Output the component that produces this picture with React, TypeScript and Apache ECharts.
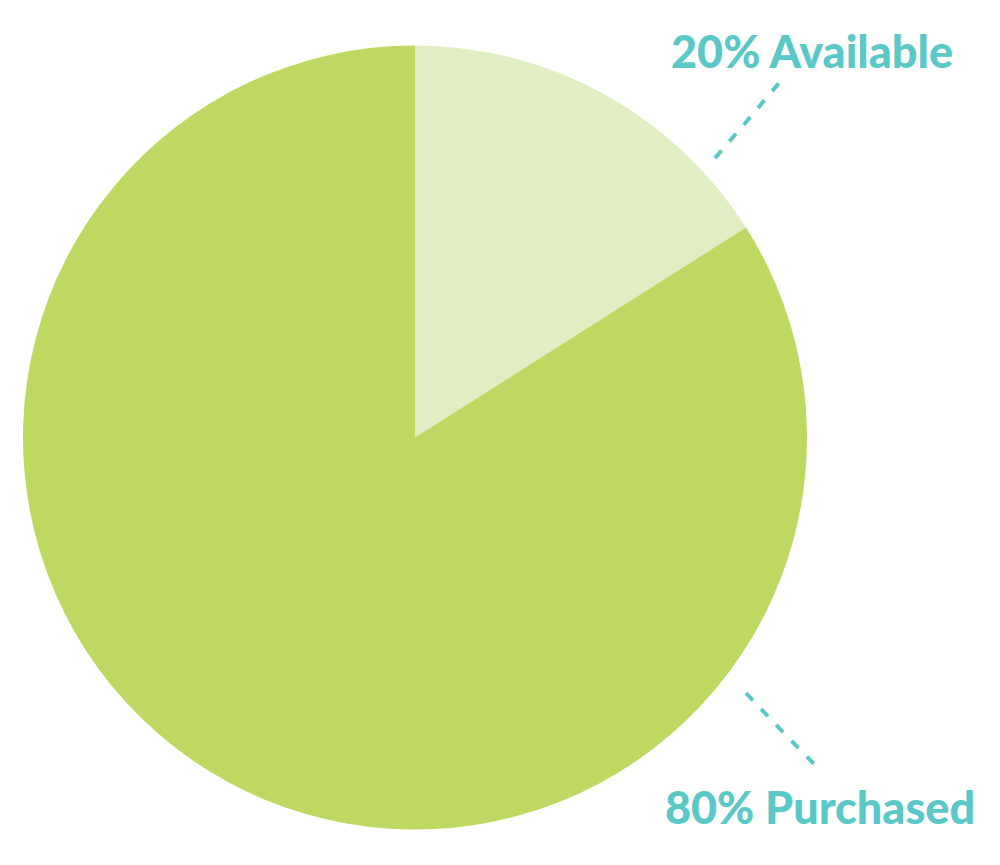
import React, { useEffect, useRef } from "react";
import * as echarts from "echarts";

const categories = ["Available", "Purchased"];
const labelPercents = [20, 80];
// slice sizes as drawn in the picture (percent of the circle)
const sliceValues = [16, 84];
const sliceColors = ["#e1eec4", "#bed862"];
const labelColor = "#5bc8c8";

// label anchors and leader lines (layout only)
const labelAnchors = [
  { x: 812, y: 51, line: [[715, 158], [747, 121], [779, 83]] },
  { x: 820, y: 807, line: [[746, 693], [780, 729], [815, 765]] },
];

export default function App() {
  const ref = useRef<HTMLDivElement>(null);
  useEffect(() => {
    document.body.style.margin = "0";
    const chart = echarts.init(ref.current!, null, { renderer: "svg" });
    chart.setOption({
      animation: false,
      backgroundColor: "#ffffff",
      series: [
        {
          type: "pie",
          center: [415, 437.5],
          radius: 392,
          startAngle: 90,
          clockwise: true,
          avoidLabelOverlap: false,
          itemStyle: { borderWidth: 0 },
          emphasis: { disabled: true },
          label: {
            show: true,
            position: "outside",
            color: labelColor,
            fontFamily: "Lato",
            fontWeight: 900,
            fontSize: 45,
            formatter: (p: any) => `${labelPercents[p.dataIndex]}% ${p.name}`,
          },
          labelLine: {
            show: true,
            lineStyle: { color: labelColor, width: 4, type: [10, 12], cap: "butt" },
          },
          labelLayout: (p: any) => {
            const a = labelAnchors[p.dataIndex];
            return {
              x: a.x,
              y: a.y,
              align: "center",
              verticalAlign: "middle",
              labelLinePoints: a.line,
            };
          },
          data: categories.map((c, i) => ({
            name: c,
            value: sliceValues[i],
            itemStyle: { color: sliceColors[i] },
          })),
        },
      ],
    });
    return () => chart.dispose();
  }, []);
  return <div ref={ref} style={{ width: 1000, height: 865 }} />;
}
